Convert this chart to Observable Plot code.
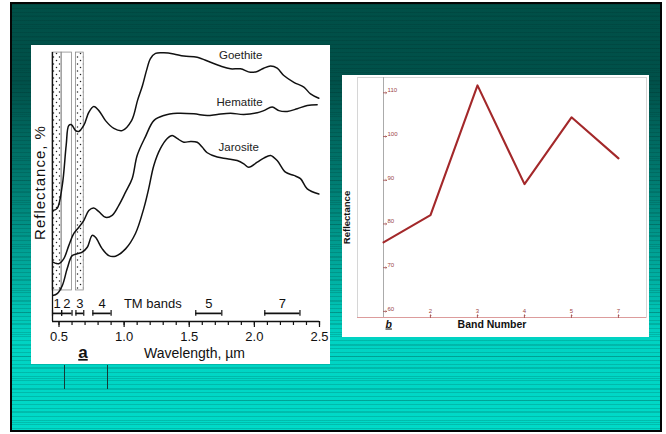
<!DOCTYPE html>
<html>
<head>
<meta charset="utf-8">
<script src="https://cdn.jsdelivr.net/npm/d3@7"></script>
<script src="https://cdn.jsdelivr.net/npm/@observablehq/plot@0.6"></script>
<style>
  html, body { margin: 0; padding: 0; background: #fff; }
  #page { position: relative; width: 666px; height: 434px; overflow: hidden;
          font-family: "Liberation Sans", Arial, sans-serif; }
  #slide { position: absolute; left: 10px; top: 2px; width: 648px; height: 426px;
           border: 2px solid #050505;
           background:
             repeating-linear-gradient(to bottom, rgba(0,35,30,0.16) 0 1px, rgba(0,0,0,0) 1px 4px),
             repeating-linear-gradient(to bottom, rgba(0,60,55,0.18) 0 1px, rgba(0,0,0,0) 1px 11px),
             linear-gradient(to bottom, #004f47 0, #00514a 80px, #00887d 205px, #00d3c3 335px, #00dac8 100%); }
  .panel { position: absolute; background: #fff; }
  #pa { left: 31px; top: 45px; width: 299px; height: 319px; }
  #pb { left: 342px; top: 75px; width: 307px; height: 262px; }
  .vline { position: absolute; width: 1px; top: 365px; height: 24px; background: #163a36; }
  svg { display: block; }
</style>
</head>
<body>
<div id="page">
  <div id="slide"></div>
  <div class="panel" id="pa"></div>
  <div class="panel" id="pb"></div>
  <div class="vline" style="left:64px"></div>
  <div class="vline" style="left:107px"></div>
</div>
<script>
// ---- Panel a: laboratory spectra of iron minerals, [wavelength µm, reflectance]
const goethite = [
  [0.452,41.1],[0.486,41.9],[0.525,50.4],[0.555,65.2],[0.575,72.6],[0.596,72.9],
  [0.627,70.7],[0.652,70.4],[0.690,72.6],[0.729,77.5],[0.767,79.6],[0.806,78.1],
  [0.857,74.4],[0.921,71.5],[0.985,70.7],[1.057,74.4],[1.103,81.9],[1.141,87.4],
  [1.172,93.0],[1.202,97.4],[1.241,99.3],[1.305,99.5],[1.381,99.1],[1.458,98.3],
  [1.561,97.9],[1.663,96.0],[1.740,94.6],[1.817,93.6],[1.893,93.6],[1.970,92.3],
  [2.022,92.6],[2.072,93.8],[2.124,94.6],[2.175,93.8],[2.226,91.1],[2.303,88.6],
  [2.380,86.8],[2.431,84.3],[2.495,82.7]
];
const hematite = [
  [0.452,22.0],[0.498,21.4],[0.537,23.3],[0.575,28.1],[0.614,32.6],[0.652,34.9],
  [0.690,37.4],[0.729,41.1],[0.767,42.0],[0.806,40.7],[0.857,38.6],[0.908,39.3],
  [0.959,43.0],[1.011,47.9],[1.062,53.0],[1.100,61.5],[1.164,68.5],[1.228,74.4],
  [1.305,76.3],[1.407,77.1],[1.535,76.9],[1.638,76.3],[1.715,76.7],[1.817,77.1],
  [1.919,76.7],[2.022,77.3],[2.072,78.1],[2.137,79.4],[2.188,78.1],[2.252,77.8],
  [2.329,78.8],[2.406,80.0],[2.482,80.3]
];
const jarosite = [
  [0.452,9.6],[0.486,10.3],[0.525,13.3],[0.563,19.6],[0.601,24.4],[0.640,25.1],
  [0.678,25.7],[0.717,27.5],[0.755,31.9],[0.780,31.2],[0.832,26.9],[0.882,24.4],
  [0.934,24.2],[1.011,26.9],[1.087,32.6],[1.151,41.9],[1.189,49.3],[1.228,57.8],
  [1.279,64.1],[1.331,67.8],[1.369,68.9],[1.407,67.8],[1.458,66.4],[1.510,66.7],
  [1.561,66.4],[1.599,64.6],[1.638,62.5],[1.715,60.9],[1.791,60.3],[1.868,59.6],
  [1.919,58.4],[1.957,57.1],[2.022,59.0],[2.072,60.5],[2.124,61.5],[2.175,59.6],
  [2.239,55.3],[2.303,54.1],[2.354,52.9],[2.406,49.1],[2.495,47.2]
];
const mineralNames = ["Goethite", "Hematite", "Jarosite"];
const mineralLabelAt = [[1.895, 98.6], [1.886, 81.3], [1.88, 64.6]];

// Landsat TM band limits (µm)
const tmBandNames = ["1", "2", "3", "4", "5", "7"];
const tmBandLo = [0.45, 0.52, 0.63, 0.76, 1.55, 2.08];
const tmBandHi = [0.52, 0.60, 0.69, 0.90, 1.75, 2.35];
const wavelengthTicks = [0.5, 1.0, 1.5, 2.0, 2.5];

// ---- Panel b: reflectance per TM band
const bandNumbers = [1, 2, 3, 4, 5, 7];
const bandReflectance = [75.8, 82.0, 111.7, 89.1, 104.4, 95.0];
const reflectanceTicks = [60, 70, 80, 90, 100, 110];
const bandTicks = [2, 3, 4, 5, 7];

// ---------------------------------------------------------------
const font = "'Liberation Sans', Arial, sans-serif";
const spectra = [goethite, hematite, jarosite].flatMap((s, i) =>
  s.map(([w, r]) => ({mineral: mineralNames[i], w, r})));
const mineralLabels = mineralNames.map((name, i) =>
  ({name, w: mineralLabelAt[i][0], r: mineralLabelAt[i][1]}));
const tmBands = tmBandNames.map((band, i) => ({band, lo: tmBandLo[i], hi: tmBandHi[i]}));
const tmEdges = tmBands.flatMap(b => [b.lo, b.hi]);
const visibleBands = tmBands.slice(0, 3);
const stippled = visibleBands.filter(b => b.band !== "2");
const minorTicks = d3.range(5, 26).map(d => d / 10);

const chartA = Plot.plot({
  width: 299, height: 319,
  marginLeft: 21, marginRight: 11, marginTop: 6, marginBottom: 43,
  style: {fontFamily: font, background: "transparent", color: "#111", overflow: "visible"},
  x: {domain: [0.45, 2.5], label: null},
  y: {domain: [0, 100], axis: null, label: null},
  marks: [
    Plot.rect(stippled, {x1: "lo", x2: "hi", y1: 11.5, y2: 99.6, fill: "url(#stipple)"}),
    Plot.rect(visibleBands, {x1: "lo", x2: "hi", y1: 11.5, y2: 99.6, fill: "none",
      stroke: "#8a8a8a", strokeWidth: 0.8}),
    Plot.ruleX([0.45], {y1: 0, y2: 99.6, stroke: "#111", strokeWidth: 1.3}),
    Plot.ruleY([0], {x1: 0.45, x2: 2.5, stroke: "#111", strokeWidth: 1.6}),
    Plot.axisX({ticks: minorTicks, tickSize: 4, tickFormat: () => "", label: null, strokeWidth: 1.2}),
    Plot.axisX({ticks: wavelengthTicks, tickSize: 6, tickPadding: 4, fontSize: 13,
      tickFormat: d3.format(".1f"), label: null, strokeWidth: 1.2}),
    Plot.line(spectra, {x: "w", y: "r", z: "mineral", stroke: "#111", strokeWidth: 1.5,
      curve: "catmull-rom"}),
    Plot.text(mineralLabels, {x: "w", y: "r", text: "name", fontSize: 11.5, fill: "#222"}),
    Plot.ruleY(tmBands, {y: 3, x1: "lo", x2: "hi", stroke: "#111", strokeWidth: 1.7}),
    Plot.ruleX(tmEdges, {x: d => d, y1: 1.9, y2: 4.1, stroke: "#111", strokeWidth: 1.2}),
    Plot.text(tmBands, {x: d => (d.lo + d.hi) / 2, y: 6.6, text: "band", fontSize: 13, fill: "#111"}),
    Plot.text(["TM bands"], {x: 1.22, y: 6.6, fontSize: 13, fill: "#111"}),
    Plot.text(["Wavelength, µm"], {x: 1.54, y: 0, dy: 32, fontSize: 14, fill: "#111"}),
    Plot.text(["a"], {x: 0.684, y: 0, dy: 31, fontSize: 17, fontWeight: "bold", fill: "#111"}),
    Plot.text(["Reflectance, %"], {frameAnchor: "left", dx: -12, dy: -4, rotate: -90,
      textAnchor: "middle", fontSize: 15, fill: "#111"})
  ]
});

// dotted fill used by the highlighted TM band strips
const defs = d3.select(chartA).insert("defs", ":first-child");
const pat = defs.append("pattern").attr("id", "stipple")
  .attr("patternUnits", "userSpaceOnUse").attr("width", 6).attr("height", 7);
[[1.5, 1.5], [4.5, 5]].forEach(([cx, cy]) =>
  pat.append("circle").attr("cx", cx).attr("cy", cy).attr("r", 0.75).attr("fill", "#222"));
d3.select(chartA).selectAll("text").filter(function() { return this.textContent === "a"; })
  .style("text-decoration", "underline");
d3.select(chartA).selectAll("text").filter(function() { return this.textContent === "Reflectance, %"; })
  .style("letter-spacing", "1px");
document.getElementById("pa").appendChild(chartA);

// ---------------------------------------------------------------
const bandRows = bandNumbers.map((band, i) => ({band, value: bandReflectance[i]}));
const tickRed = "#9c4444";
const chartB = Plot.plot({
  width: 307, height: 262,
  marginLeft: 15, marginRight: 3, marginTop: 2, marginBottom: 20,
  style: {fontFamily: font, background: "transparent", color: "#111", overflow: "visible"},
  x: {type: "point", domain: bandNumbers, range: [15, 301], axis: null, label: null},
  y: {domain: [58.6, 113.5], axis: null, label: null},
  marks: [
    Plot.frame({stroke: "#d6d6d6"}),
    Plot.ruleX([1], {stroke: "#ababab"}),
    Plot.ruleY([58.6], {stroke: "#dc9c9c"}),
    Plot.vector(reflectanceTicks, {x: 1, y: d => d, length: 3, rotate: 90, anchor: "start",
      stroke: tickRed, strokeWidth: 0.8}),
    Plot.text(reflectanceTicks, {x: 1, y: d => d, text: d => String(d), dx: 4, dy: -2.5,
      textAnchor: "start", fontSize: 6, fill: tickRed}),
    Plot.vector(bandTicks, {x: d => d, y: 58.6, length: 2.5, anchor: "start",
      stroke: tickRed, strokeWidth: 0.8}),
    Plot.text(bandTicks, {x: d => d, y: 58.6, dy: -6.5, text: d => String(d), fontSize: 6, fill: tickRed}),
    Plot.line(bandRows, {x: "band", y: "value", stroke: "#a3282a", strokeWidth: 2.1}),
    Plot.text(["Reflectance"], {frameAnchor: "left", dx: -11, dy: 20, rotate: -90,
      textAnchor: "middle", fontSize: 9.5, fontWeight: "bold", fill: "#111"}),
    Plot.text(["Band Number"], {frameAnchor: "bottom", dx: -10, dy: 10,
      fontSize: 10.5, fontWeight: "bold", fill: "#111"}),
    Plot.text(["b"], {frameAnchor: "bottom-left", dx: 28, dy: 10,
      fontSize: 10.5, fontWeight: "bold", fontStyle: "italic", fill: "#111"})
  ]
});
d3.select(chartB).selectAll("text").filter(function() { return this.textContent === "b"; })
  .style("text-decoration", "underline");
document.getElementById("pb").appendChild(chartB);
</script>
</body>
</html>
